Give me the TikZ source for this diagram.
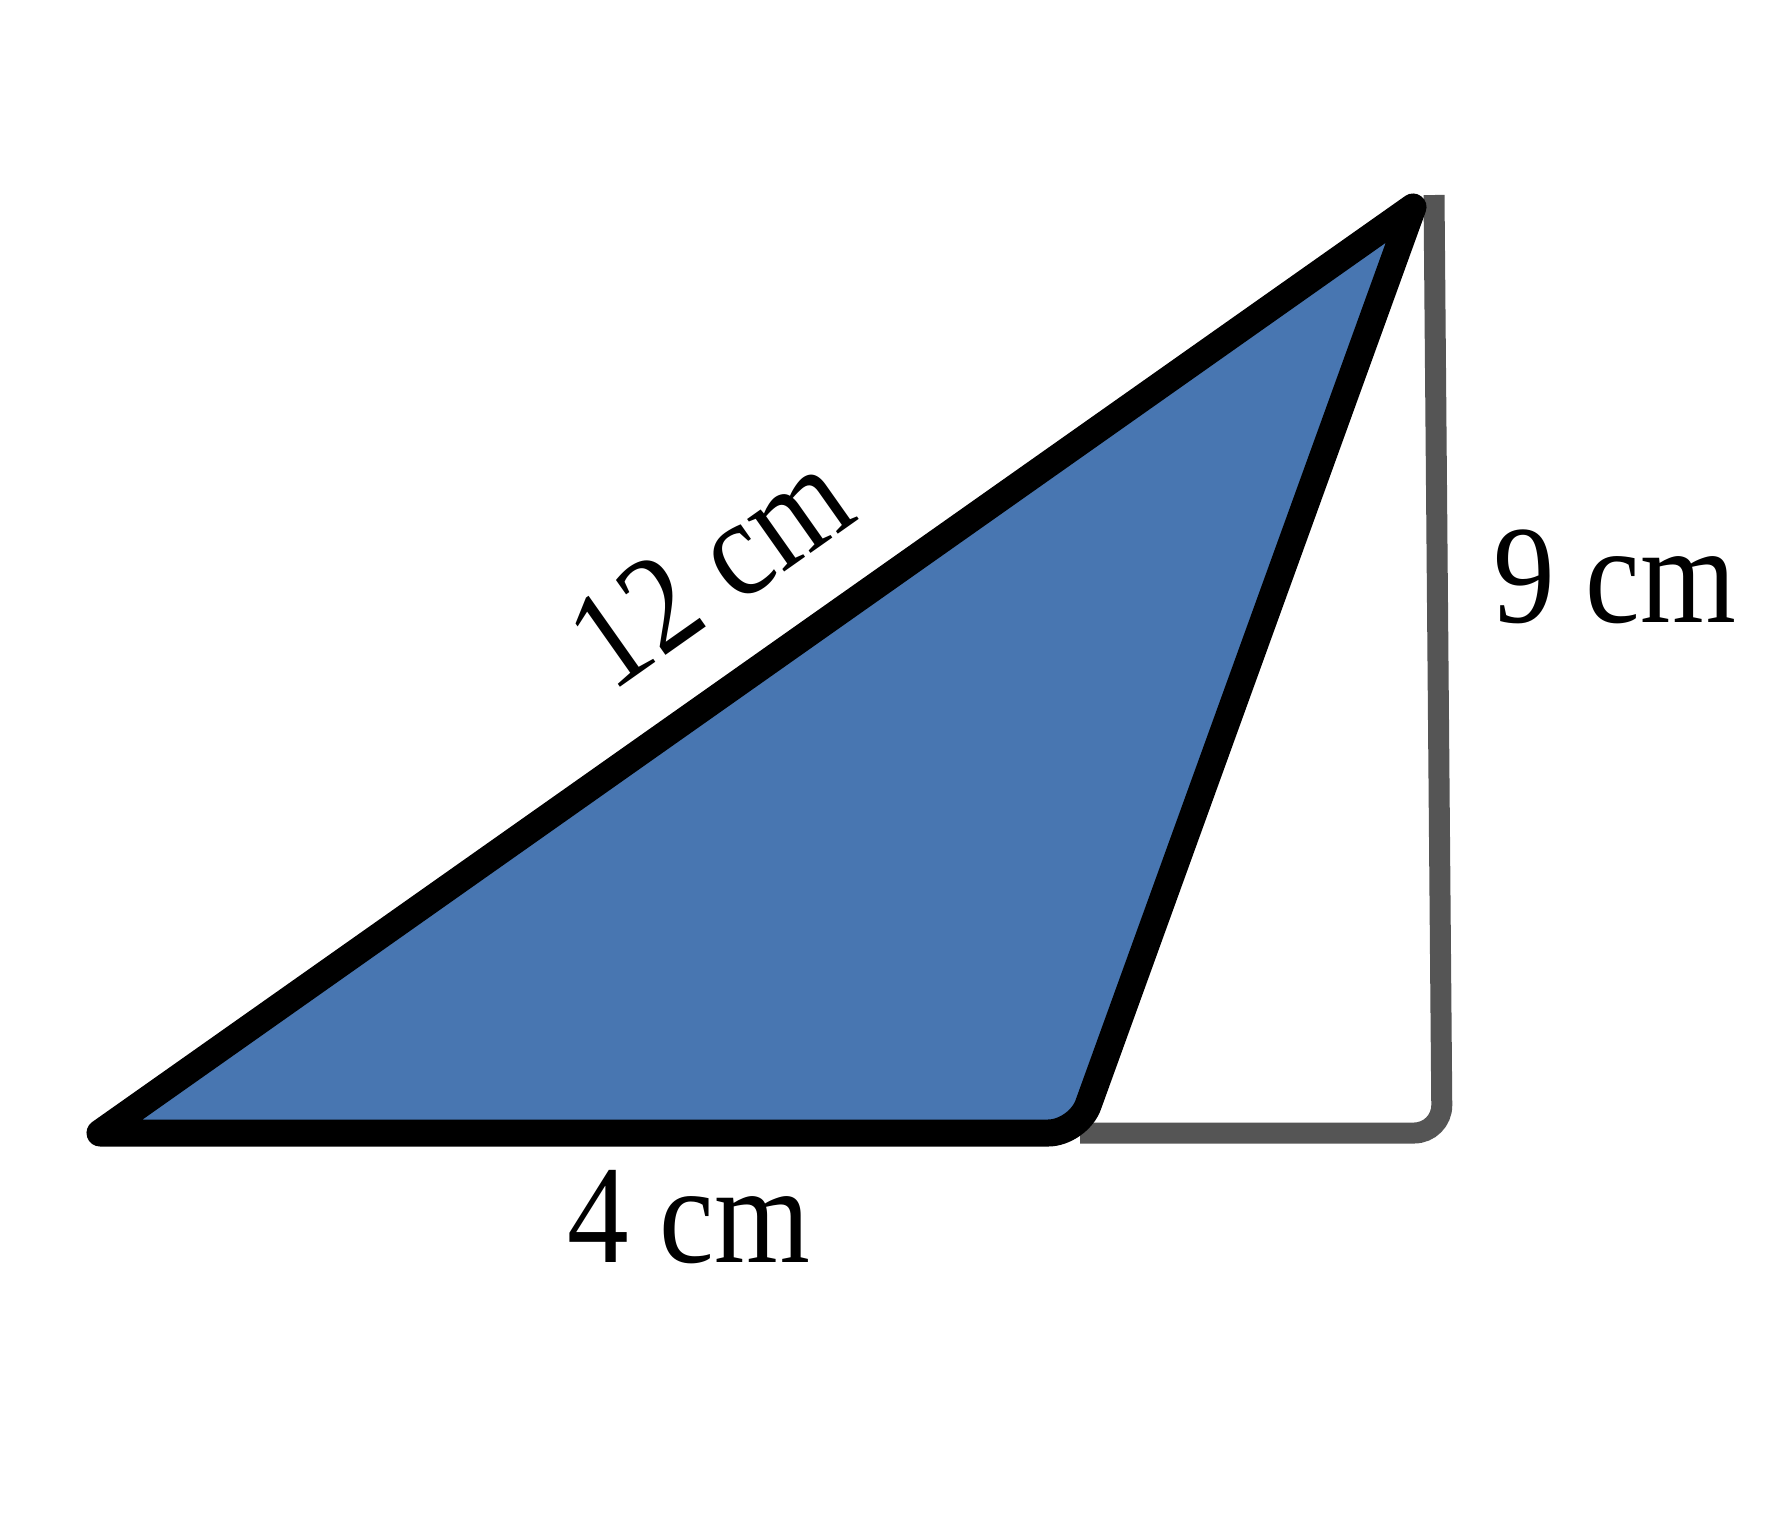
\documentclass[tikz,border=0pt]{standalone}
\usepackage{fontspec}
\setmainfont{Liberation Serif}
\definecolor{triblue}{RGB}{72,118,177}
\definecolor{guidegray}{RGB}{85,85,85}
\begin{document}
\begin{tikzpicture}[x=0.5pt,y=-0.5pt,
  edge/.style={draw=black,line width=13.5pt,line join=round,fill=triblue},
  guide/.style={draw=guidegray,line width=10.5pt,rounded corners=14pt},
  lab/.style={font=\fontsize{70}{84}\selectfont,anchor=base,inner sep=0pt}]
\useasboundingbox[fill=white] (0,0) rectangle (1786,1522);
\coordinate (L) at (100,1133);
\coordinate (T) at (1413,207);
\coordinate (R) at (1078,1133);
\coordinate (G1) at (1080,1133);
\coordinate (G2) at (1442,1133);
\coordinate (G3) at (1434,195);
\draw[guide] (G1) -- (G2) -- (G3);
\path[edge] (L) -- (T) [rounded corners=15pt]-- (R) [sharp corners]-- cycle;
\node[lab,rotate=35.2] (l12) at (736,606) {\scalebox{0.88}[1]{12 cm}};
\node[lab] (l9) at (1615,622) {\scalebox{0.88}[1]{9 cm}};
\node[lab] (l4) at (689,1262) {\scalebox{0.88}[1]{4 cm}};
\end{tikzpicture}
\end{document}
